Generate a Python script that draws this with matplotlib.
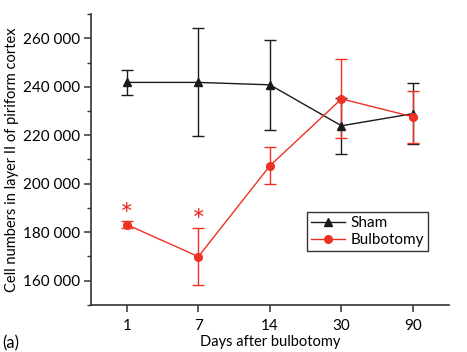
import numpy as np
import matplotlib.pyplot as plt
from matplotlib.lines import Line2D
from matplotlib.ticker import FuncFormatter, MultipleLocator

plt.rcParams['font.family'] = ['Lato', 'DejaVu Sans']

# ---------------------------------------------------
# Data
# ---------------------------------------------------

days = ["1", "7", "14", "30", "90"]

sham = [241800, 241800, 240800, 223900, 228900]
sham_err = [5000, 22300, 18500, 11500, 12700]

bulb = [183100, 169900, 207400, 235000, 227600]
bulb_err = [1500, 11800, 7700, 16300, 10800]

signif = [0, 1]  # indices marked with *
star_y = [190000, 187500]

# ---------------------------------------------------
# Plot
# ---------------------------------------------------

BLACK = "#1a1a1a"
RED = "#ee3124"

fig = plt.figure(figsize=(4.67, 3.52), dpi=100)
ax = fig.add_axes([0.195, 0.134, 0.766, 0.826])

x = np.arange(len(days))

ax.errorbar(x, sham, yerr=sham_err, color=BLACK, marker="^", markersize=6,
            linewidth=1, elinewidth=1, capsize=4, capthick=1)
ax.errorbar(x, bulb, yerr=bulb_err, color=RED, marker="o", markersize=5.5,
            linewidth=1, elinewidth=1, capsize=4, capthick=1)

for i, y in zip(signif, star_y):
    ax.text(x[i], y, "\u2217", color=RED, ha="center", va="center",
            fontsize=11.5, family="DejaVu Sans")

ax.set_xlim(-0.5, 4.5)
ax.set_ylim(150000, 270000)
ax.set_xticks(x)
ax.set_xticklabels(days)
ax.yaxis.set_major_locator(MultipleLocator(20000))
ax.yaxis.set_minor_locator(MultipleLocator(10000))
ax.yaxis.set_major_formatter(FuncFormatter(
    lambda v, p: f"{int(v):,}".replace(",", " ")))

for side in ["top", "right"]:
    ax.spines[side].set_visible(False)
for side in ["left", "bottom"]:
    ax.spines[side].set_color("#333333")
    ax.spines[side].set_linewidth(1.2)

ax.tick_params(axis="both", which="major", length=5, width=1.1,
               color="#333333", labelsize=11, pad=3)
ax.tick_params(axis="y", which="minor", length=3, width=1, color="#333333")
ax.tick_params(axis="x", pad=5)

ax.set_ylabel("Cell numbers in layer II of piriform cortex", fontsize=10.5,
              labelpad=3)
ax.set_xlabel("Days after bulbotomy", fontsize=10.5, labelpad=2)

handles = [
    Line2D([], [], color=BLACK, marker="^", markersize=6, linewidth=1),
    Line2D([], [], color=RED, marker="o", markersize=5.5, linewidth=1),
]
leg = ax.legend(handles, ["Sham", "Bulbotomy"], loc="upper left",
                bbox_to_anchor=(0.604, 0.318), fontsize=11,
                fancybox=False, framealpha=1, edgecolor="#333333",
                handlelength=2.2, borderpad=0.25, labelspacing=0.2,
                handletextpad=0.4, borderaxespad=0)
leg.get_frame().set_linewidth(1)

fig.text(0.005, 0.003, "(a)", fontsize=12, ha="left", va="bottom")

plt.savefig("out.png", dpi=100)
